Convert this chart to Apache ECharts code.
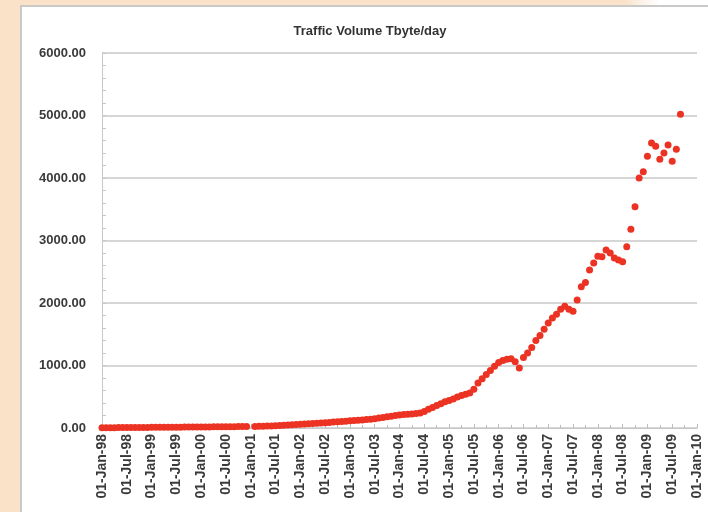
<!DOCTYPE html>
<html>
<head>
<meta charset="utf-8">
<title>Traffic Volume</title>
<script src="https://cdn.jsdelivr.net/npm/echarts@6/dist/echarts.min.js"></script>
<style>
  html, body { margin: 0; padding: 0; }
  body {
    width: 708px; height: 512px; overflow: hidden; position: relative;
    background: linear-gradient(to right, #f9e2c7 0, #f9e2c7 625px, #fbf1e6 640px, #ffffff 660px);
  }
  #frame {
    position: absolute; left: 20px; top: 5px; width: 700px; height: 520px;
    background: #fff; border: 2px solid #c9c9c9; box-sizing: border-box;
  }
  #chart { position: absolute; left: 0; top: 0; width: 708px; height: 512px; }
</style>
</head>
<body>
<div id="frame"></div>
<div id="chart"></div>
<script>
// monthly points, first one is Jan 1998 (null = no reading)
const firstYear = 1998
const traffic = [
  // 1998
  5, 5, 6, 6, 7, 7, 8, 8, 9, 9, 10, 10,
  // 1999
  11, 11, 12, 12, 13, 13, 14, 14, 15, 15, 16, 16,
  // 2000
  17, 18, 18, 19, 20, 20, 21, 22, 22, 23, 24, 25,
  // 2001
  null, 26, 28, 30, 32, 34, 37, 40, 44, 48, 52, 56,
  // 2002
  60, 64, 68, 72, 76, 80, 85, 90, 95, 100, 104, 108,
  // 2003
  115, 120, 125, 130, 135, 140, 150, 160, 170, 180, 190, 200,
  // 2004
  210, 215, 220, 225, 232, 240, 265, 300, 330, 360, 390, 420,
  // 2005
  440, 465, 495, 520, 540, 560, 620, 720, 790, 855, 920, 990,
  // 2006
  1050, 1080, 1100, 1110, 1060, 960, 1130, 1200, 1290, 1400, 1480, 1580,
  // 2007
  1680, 1760, 1820, 1900, 1950, 1900, 1870, 2050, 2260, 2330, 2530, 2640,
  // 2008
  2750, 2740, 2850, 2800, 2720, 2690, 2660, 2900, 3180, 3540, 4000, 4100,
  // 2009
  4350, 4560, 4510, 4300, 4400, 4530, 4270, 4460, 5020
]

const xTickLabels = [
  '01-Jan-98', '01-Jul-98', '01-Jan-99', '01-Jul-99', '01-Jan-00', '01-Jul-00',
  '01-Jan-01', '01-Jul-01', '01-Jan-02', '01-Jul-02', '01-Jan-03', '01-Jul-03',
  '01-Jan-04', '01-Jul-04', '01-Jan-05', '01-Jul-05', '01-Jan-06', '01-Jul-06',
  '01-Jan-07', '01-Jul-07', '01-Jan-08', '01-Jul-08', '01-Jan-09', '01-Jul-09',
  '01-Jan-10'
]
const yTicks = [0, 1000, 2000, 3000, 4000, 5000, 6000]

// x = months since Jan of firstYear
const points = []
traffic.forEach((v, i) => {
  if (v !== null) points.push([i, v])
})

const chart = echarts.init(document.getElementById('chart'), null, { renderer: 'canvas' })

const labelFont = {
  color: '#3a3a3a',
  fontFamily: 'Liberation Sans',
  fontWeight: 'bold',
  fontSize: 13
}

chart.setOption({
  backgroundColor: 'transparent',
  animation: false,
  title: {
    text: 'Traffic Volume Tbyte/day',
    left: 365,
    top: 20,
    textAlign: 'center',
    textStyle: { color: '#333', fontFamily: 'Liberation Sans', fontWeight: 'bold', fontSize: 13 }
  },
  grid: { left: 102, right: 11, top: 53, bottom: 84, containLabel: false },
  xAxis: {
    type: 'value',
    min: 0,
    max: 144,
    interval: 6,
    axisLine: { show: true, lineStyle: { color: '#c8c8c8', width: 1 } },
    axisTick: { show: true, inside: true, length: 4, lineStyle: { color: '#bdbdbd' } },
    minorTick: { show: true, splitNumber: 2, length: 3, lineStyle: { color: '#bdbdbd' } },
    splitLine: { show: false },
    axisLabel: Object.assign({
      rotate: 90,
      margin: 6,
      formatter: v => xTickLabels[Math.round(v / 6)] || ''
    }, labelFont, { fontSize: 14 })
  },
  yAxis: {
    type: 'value',
    min: yTicks[0],
    max: yTicks[yTicks.length - 1],
    interval: 1000,
    axisLine: { show: true, lineStyle: { color: '#c8c8c8', width: 1 } },
    axisTick: { show: true, inside: true, length: 4, lineStyle: { color: '#c8c8c8' } },
    minorTick: { show: true, splitNumber: 5, length: 4, lineStyle: { color: '#c8c8c8' } },
    splitLine: { show: true, lineStyle: { color: '#d6d6d6', width: 2 } },
    axisLabel: Object.assign({
      margin: 16,
      formatter: v => v.toFixed(2)
    }, labelFont)
  },
  series: [{
    type: 'scatter',
    data: points,
    symbol: 'circle',
    symbolSize: 7,
    itemStyle: { color: '#ec3323', opacity: 1 }
  }]
})
</script>
</body>
</html>
